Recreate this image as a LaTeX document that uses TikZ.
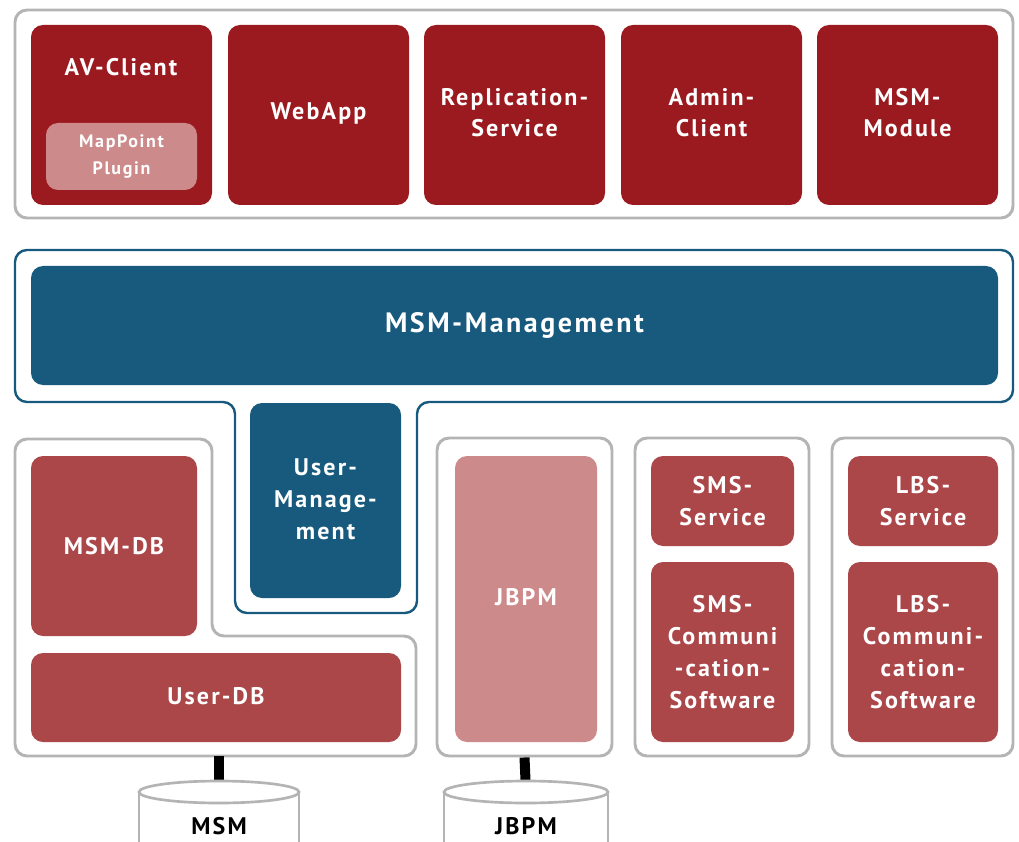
\documentclass[tikz,border=0pt]{standalone}
\usepackage{fontspec}
\setmainfont{PT Sans}[LetterSpace=9]
\usetikzlibrary{fit}
\definecolor{dred}{HTML}{9A1A1F}
\definecolor{mred}{HTML}{AB4649}
\definecolor{pinkc}{HTML}{CC8A8B}
\definecolor{bluec}{HTML}{175A7E}
\definecolor{grayc}{HTML}{B4B4B6}
\tikzset{
  grp/.style={draw=grayc, line width=2.2pt, rounded corners=9pt, fill=white, inner sep=0pt},
  bgrp/.style={draw=bluec, line width=1.8pt, rounded corners=9pt},
  bx/.style={rounded corners=9pt, inner sep=0pt},
  txt/.style={inner sep=0pt, text=white, align=center,
     font=\bfseries\fontsize{18}{23.5}\selectfont},
  txtb/.style={txt, font=\bfseries\fontsize{18}{24}\selectfont},
  dbox/.style={bx, fill=dred},
  mbox/.style={bx, fill=mred},
  pbox/.style={bx, fill=pinkc},
  blbox/.style={bx, fill=bluec},
  conn/.style={line width=7.5pt, black},
  cyl/.style={draw=grayc, line width=2pt, fill=white},
  cyltext/.style={font=\bfseries\fontsize{18}{22}\selectfont, text=black}
}
\begin{document}
\begin{tikzpicture}[x=0.75pt,y=-0.75pt]
\useasboundingbox (0,0) rectangle (1019,841);
\clip (0,0) rectangle (1019,841);

% top group
\node[grp, fit={(15,10) (1013,218)}] (topgrp) {};
\node[dbox, fit={(31,25) (212,205)}] (avc) {};
\node[txt] (avclbl) at (121,67) {AV-Client};
\node[pbox, fit={(46,123) (197,190)},
  label={[txt, font=\bfseries\fontsize{13.5}{20}\selectfont]center:{MapPoint\\Plugin}}] (mpp) {};
\node[dbox, fit={(228,25) (409,205)}, label={[txt, yshift=1pt]center:WebApp}] (webapp) {};
\node[dbox, fit={(424,25) (605,205)}, label={[txt, yshift=2pt]center:{Replication-\\Service}}] (repl) {};
\node[dbox, fit={(621,25) (802,205)}, label={[txt, yshift=2pt]center:{Admin-\\Client}}] (admin) {};
\node[dbox, fit={(817,25) (998,205)}, label={[txt, yshift=2pt]center:{MSM-\\Module}}] (msmmod) {};

% blue management shape
\draw[bgrp] (15,250) -- (1013,250) -- (1013,402) -- (417,402) -- (417,613)
  -- (235,613) -- (235,402) -- (15,402) -- cycle;
\node[blbox, fit={(31,266) (998,385)},
  label={[txt, font=\bfseries\fontsize{21}{26}\selectfont]center:MSM-Management}] (mgmt) {};
\node[blbox, fit={(250,403) (401,598)},
  label={[txtb, yshift=1pt]center:{User-\\Manage-\\ment}}] (usermgmt) {};

% left L-shaped group
\draw[grp] (15,439) -- (212,439) -- (212,636) -- (416,636) -- (416,756) -- (15,756) -- cycle;
\coordinate (lgrpbot) at (219,756);
\node[mbox, fit={(31,456) (197,636)}, label={[txt]center:MSM-DB}] (msmdb) {};
\node[mbox, fit={(31,653) (401,742)}, label={[txt, yshift=1pt]center:User-DB}] (userdb) {};

% JBPM group
\node[grp, fit={(437,438) (612,756)}] (jgrp) {};
\node[pbox, fit={(455,456) (597,742)}] (jbpm) {};
\node[txt] (jbpmlbl) at (526,597) {JBPM};

% SMS group
\node[grp, fit={(635,438) (809,756)}] (sgrp) {};
\node[mbox, fit={(651,456) (794,546)}, label={[txt]center:{SMS-\\Service}}] (smss) {};
\node[mbox, fit={(651,562) (794,742)}, label={[txtb]center:{SMS-\\Communi\\-cation-\\Software}}] (smsc) {};

% LBS group
\node[grp, fit={(832,438) (1013,756)}] (lgrp) {};
\node[mbox, fit={(848,456) (998,546)}, label={[txt]center:{LBS-\\Service}}] (lbss) {};
\node[mbox, fit={(848,562) (998,742)}, label={[txtb]center:{LBS-\\Communi-\\cation-\\Software}}] (lbsc) {};

% databases
\coordinate (cyl1) at (219,792);
\coordinate (cyl2) at (526,792);
\draw[conn] (lgrpbot) -- (cyl1);
\draw[conn] (jgrp.south) -- (cyl2);

\fill[white] (139,792) rectangle (299,860);
\draw[grayc, line width=2pt] (139,792) -- (139,860) (299,792) -- (299,860);
\draw[cyl] (cyl1) ellipse[x radius=80, y radius=11];
\node[cyltext] (msmlbl) at (219,826) {MSM};

\fill[white] (444,792) rectangle (608,860);
\draw[grayc, line width=2pt] (444,792) -- (444,860) (608,792) -- (608,860);
\draw[cyl] (cyl2) ellipse[x radius=82, y radius=11];
\node[cyltext] (jbpmdblbl) at (526,826) {JBPM};
\end{tikzpicture}
\end{document}
